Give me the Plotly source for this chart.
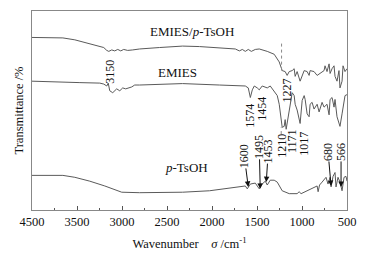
import plotly.graph_objects as go

# ---- data (wavenumber / cm^-1, transmittance in arbitrary offset units) ----
mix_wn = [4000,3657,3524,3358,3203,3169,3147,3114,3081,3047,3014,2981,2937,2881,2804,
          2582,2327,2139,1741,1696,1663,1630,1597,1563,1519,1475,1419,1386,1309,1253,
          1220,1187,1165,1142,1109,1087,1076,1054,1021,998,976,943,921,910,866,
          832,799,755,744,722,699,688,666,644,633,611,589,578,555,544,522,500]
mix_T = [179.5,179,177,173,169,166,165,166.5,165.5,167,165.5,167,166,166.5,167.5,
         169,170.5,170,167.5,165.5,167,165,167,165,167,167.5,166,165,162,154,
         145,144,140,144,145,147,139,144,134,139,145,144,140,145,144,
         140,142,145,150,144,152,142,147,150,139,134,145,127,134,150,144,147]

emies_wn = [4000,3690,3468,3247,3203,3169,3153,3136,3103,3059,3025,2992,2959,2892,2859,
            2804,2327,1918,1630,1597,1574,1552,1530,1497,1475,1442,1419,1386,1353,1309,
            1275,1253,1242,1220,1198,1187,1176,1153,1131,1109,1087,1076,1054,1032,1021,
            998,976,965,943,921,910,888,866,832,810,777,755,722,699,688,
            666,644,633,611,589,578,555,533,522,500]
emies_T = [134,133.5,132.5,132,131,129,132,124,122,126,124,127,126,128,130,
           130,131.5,130,129,127,117,125,129,127,125,129,128,127,129,124,
           119,110,100,86,87,94,84,97,114,122,119,110,104,94,90,
           114,119,115,100,97,110,112,105,110,102,112,107,110,99,115,
           117,107,115,97,90,87,100,115,119,120]

tsoh_wn = [4000,3657,3524,3358,3191,3081,3003,2804,2505,2327,2028,1663,1630,1608,1574,
           1519,1497,1475,1442,1408,1386,1353,1309,1275,1220,1142,1054,1032,1010,921,
           888,832,821,805,777,733,711,688,677,655,633,622,600,578,555,533,511,500]
tsoh_T = [36,36,34,30,25,21,18.5,18,18,18.5,20,24,25,22,27,
          28,25,22,27,30,26,31,31,29,20,17,17,19,17,21,
          22,25,19,26,29,34,27,34,24,35,39,24,34,29,20,34,35,30]

series_names = ["EMIES/<i>p</i>-TsOH", "EMIES", "<i>p</i>-TsOH"]
name_wn = [2217, 2383, 2283]
name_T = [186, 143, 44]

# peak labels without arrows
peak_text = ["3150", "1574", "1454", "1227", "1210", "1171", "1017"]
peak_wn = [3136, 1574, 1453, 1165, 1231, 1109, 976]
peak_T = [143.5, 98.5, 105.5, 124.5, 67, 72, 69]

# peak labels with arrows (head at the band, text offset in px)
arrow_text = ["1600", "1495", "1453", "680", "566"]
arrow_wn = [1597, 1464, 1397, 677, 566]
arrow_T = [24, 22, 29, 25, 24]
arrow_dx = [-4, -1, 2, -3, 0]
arrow_dy = [-31, -42, -31, -34, -35]

tick_vals = [4000, 3500, 3000, 2500, 2000, 1500, 1000, 500]
tick_text = ["4500", "3500", "3000", "2500", "2000", "1500", "1000", "500"]

FONT = "Liberation Serif"
LINE = "#5a5a5a"
TXT = "#111"

fig = go.Figure()
for wn, T in [(mix_wn, mix_T), (emies_wn, emies_T), (tsoh_wn, tsoh_T)]:
    fig.add_trace(go.Scatter(x=wn, y=T, mode="lines",
                             line=dict(color=LINE, width=1), showlegend=False,
                             hoverinfo="skip"))

for name, x, y in zip(series_names, name_wn, name_T):
    fig.add_annotation(x=x, y=y, text=name, showarrow=False,
                       font=dict(family=FONT, size=13, color=TXT))

for t, x, y in zip(peak_text, peak_wn, peak_T):
    fig.add_annotation(x=x, y=y, text=t, showarrow=False, textangle=-90,
                       font=dict(family=FONT, size=12, color=TXT))

for t, x, y, dx, dy in zip(arrow_text, arrow_wn, arrow_T, arrow_dx, arrow_dy):
    fig.add_annotation(x=x, y=y, text=t, textangle=-90, showarrow=True, ax=dx, ay=dy,
                       arrowhead=2, arrowsize=1.1, arrowwidth=1, arrowcolor=TXT,
                       standoff=0, startstandoff=0, borderpad=0,
                       font=dict(family=FONT, size=12, color=TXT))

# dotted marker line for 1227 and leader for 1210
fig.add_shape(type="line", x0=1227, x1=1227, y0=145, y1=176,
              line=dict(color="#888", width=1, dash="dot"))
fig.add_shape(type="line", x0=1231, x1=1231, y0=79, y1=86,
              line=dict(color="#888", width=1, dash="dot"))

fig.update_layout(
    width=366, height=259,
    margin=dict(l=32, r=18, t=10, b=42),
    paper_bgcolor="white", plot_bgcolor="white",
    font=dict(family=FONT, size=12, color=TXT),
    xaxis=dict(range=[4000, 500], tickvals=tick_vals, ticktext=tick_text,
               ticks="inside", ticklen=4, tickcolor="#555", tickwidth=1,
               minor=dict(dtick=250, ticks="inside", ticklen=2.5, tickcolor="#555"),
               showline=True, linecolor="#888", linewidth=1, mirror=True,
               showgrid=False, zeroline=False,
               tickfont=dict(family=FONT, size=12.5, color=TXT),
               title=dict(text="Wavenumber&nbsp;&nbsp;&nbsp;&nbsp;<i>σ</i> /cm<sup>-1</sup>",
                          font=dict(family=FONT, size=12.5, color=TXT), standoff=11)),
    yaxis=dict(range=[0, 207], showticklabels=False, ticks="",
               showline=True, linecolor="#888", linewidth=1, mirror=True,
               showgrid=False, zeroline=False,
               title=dict(text="Transmittance /%",
                          font=dict(family=FONT, size=12.5, color=TXT), standoff=4)),
)

fig.write_html("out.html", config={"displayModeBar": False},
               post_script="document.body.style.margin='0';")
